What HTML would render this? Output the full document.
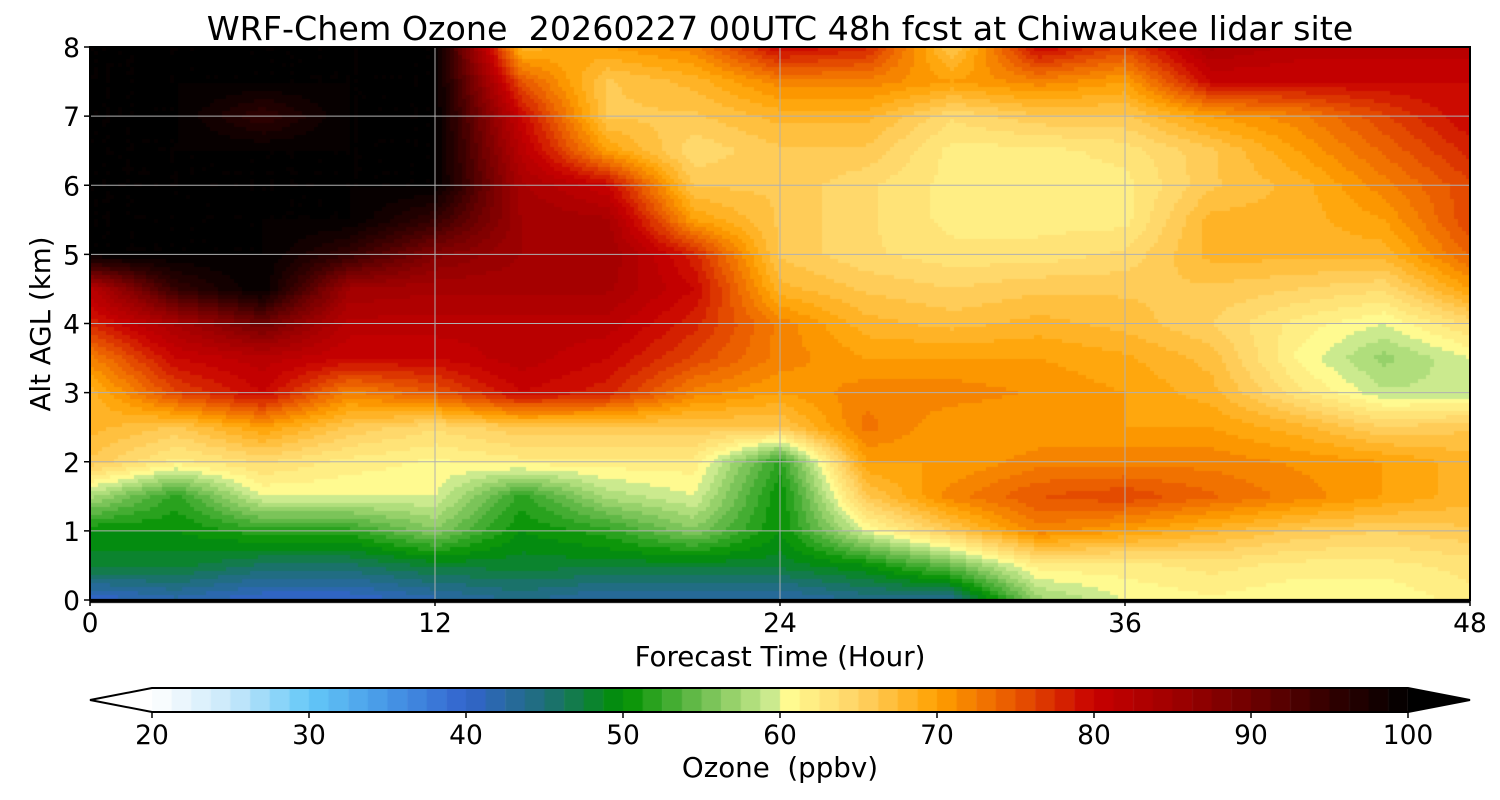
<!DOCTYPE html>
<html><head><meta charset="utf-8"><style>
body{margin:0;background:#fff;width:1500px;height:800px;overflow:hidden;font-family:"DejaVu Sans","Liberation Sans",sans-serif}
#wrap{position:relative;width:1500px;height:800px}
canvas,svg{position:absolute;left:0;top:0}
svg text{font-family:"DejaVu Sans","Liberation Sans",sans-serif}
</style></head><body>
<div id="wrap">
<canvas id="cv" width="1500" height="800"></canvas>
<svg id="sv" width="1500" height="800"></svg>
</div>
<script>
// Data
const hours=[0,3,6,9,12,15,18,21,24,27,30,33,36,39,42,45,48];
const alts=[0,0.5,1,1.5,2,2.5,3,3.5,4,4.5,5,5.5,6,6.5,7,7.5,8];
const ozone=[
[40,48,50,58,66,68,68,72,78,82,100,100,100,100,100,100,100],
[42,48,50,52,62,66,76,80,84,95,100,100,100,100,100,100,100],
[40,46,52,60,64,70,80,82,90,100,100,100,100,100,95,100,100],
[40,46,52,60,62,66,72,80,82,85,95,100,100,100,100,100,100],
[42,48,56,60,61,64,75,80,82,84,88,95,100,100,100,100,100],
[44,48,50,52,62,66,80,82,82,84,85,85,84,82,80,75,68],
[42,48,52,58,62,66,78,80,82,84,85,84,80,70,66,66,70],
[42,48,56,60,62,66,72,76,78,80,78,70,66,64,66,68,72],
[42,48,50,50,52,66,70,72,72,68,66,66,66,66,68,72,80],
[44,50,60,66,70,73,72,70,68,66,64,64,64,66,68,72,78],
[44,55,66,72,70,70,72,70,67,65,63,62,62,62,64,70,66],
[57,62,72,75,72,70,71,70,68,66,63,62,62,62,66,72,80],
[60,62,70,76,72,70,70,69,67,66,64,62,62,63,66,70,76],
[61,63,68,74,72,70,68,67,65,66,68,68,66,66,70,80,84],
[60,62,66,72,71,68,63,61,62,65,68,68,68,70,72,80,82],
[60,62,65,70,70,65,59,57,60,64,68,70,72,74,76,80,82],
[62,63,66,68,68,66,59,60,64,70,74,76,76,78,80,80,82]];
const xTicks=[0,12,24,36,48];
const yTicks=[0,1,2,3,4,5,6,7,8];
const cbTicks=[20,30,40,50,60,70,80,90,100];
const cstops=[[20,[255,255,255]],[25,[200,232,250]],[30,[100,200,248]],[35,[70,150,230]],[40,[50,100,205]],[45,[30,110,120]],[50,[0,145,0]],[55,[110,190,80]],[59.9,[215,240,150]],[60,[255,255,150]],[65,[255,210,100]],[70,[255,160,0]],[75,[232,85,0]],[80,[200,0,0]],[85,[160,0,0]],[90,[110,0,0]],[95,[50,0,0]],[100,[0,0,0]]];
function cmap(v){v=Math.max(20,Math.min(100,v));
 for(let i=0;i<cstops.length-1;i++){const a=cstops[i],b=cstops[i+1];
  if(v<=b[0]){const t=(v-a[0])/(b[0]-a[0]);return a[1].map((c,k)=>Math.round(c+(b[1][k]-c)*t));}}
 return [0,0,0];}
const X0=90,X1=1470,Y0=600,Y1=47;
const xs=h=>X0+(X1-X0)*h/48, ys=a=>Y0-(Y0-Y1)*a/8;
function val(h,a){
 let i=Math.min(hours.length-2,Math.floor(h/3)),j=Math.min(alts.length-2,Math.floor(a/0.5));
 const tx=(h-hours[i])/3,ty=(a-alts[j])/0.5;
 const v00=ozone[i][j],v10=ozone[i+1][j],v01=ozone[i][j+1],v11=ozone[i+1][j+1];
 return v00*(1-tx)*(1-ty)+v10*tx*(1-ty)+v01*(1-tx)*ty+v11*tx*ty;}
const ctx=document.getElementById('cv').getContext('2d');
const step=4;
for(let px=X0;px<X1;px+=step)for(let py=Y1;py<Y0;py+=step){
 const h=(px+step/2-X0)/(X1-X0)*48,a=(Y0-(py+step/2))/(Y0-Y1)*8;
 let v=val(h,a);v=Math.floor(v/1.25)*1.25+0.6;
 const c=cmap(v);ctx.fillStyle=`rgb(${c})`;ctx.fillRect(px,py,step,step);}
const CB0=152,CB1=1408,CT=688,CBB=712;
const cbx=v=>CB0+(CB1-CB0)*(v-20)/80;
for(let v=20;v<100;v+=1.25){const c=cmap(v+0.6);ctx.fillStyle=`rgb(${c})`;ctx.fillRect(cbx(v),CT,cbx(v+1.25)-cbx(v)+0.5,CBB-CT);}
const sv=document.getElementById('sv');const NS='http://www.w3.org/2000/svg';
function mk(t,at,txt){const e=document.createElementNS(NS,t);for(const k in at)e.setAttribute(k,at[k]);if(txt!==undefined)e.textContent=txt;sv.appendChild(e);return e;}
for(const t of xTicks){const l=mk('line',{x1:xs(t),x2:xs(t),y1:Y1,y2:Y0,stroke:'#b0b0b0','stroke-width':1});

mk('line',{x1:xs(t),x2:xs(t),y1:Y0,y2:Y0+6,stroke:'#000','stroke-width':1.5});
const tx=mk('text',{x:xs(t),y:Y0+32,'text-anchor':'middle','font-size':26.5},t);
}
for(const t of yTicks){const l=mk('line',{x1:X0,x2:X1,y1:ys(t),y2:ys(t),stroke:'#b0b0b0','stroke-width':1});

mk('line',{x1:X0-6,x2:X0,y1:ys(t),y2:ys(t),stroke:'#000','stroke-width':1.5});
const tx=mk('text',{x:X0-10,y:ys(t)+10,'text-anchor':'end','font-size':26.5},t);
}
const fr=mk('rect',{x:X0,y:Y1,width:X1-X0,height:Y0-Y1,fill:'none',stroke:'#000','stroke-width':2});

const ti=mk('text',{x:780,y:40,'text-anchor':'middle','font-size':33.3},'WRF-Chem Ozone  20260227 00UTC 48h fcst at Chiwaukee lidar site');
ti.style.whiteSpace='pre';
const xl=mk('text',{x:780,y:666,'text-anchor':'middle','font-size':27.7},'Forecast Time (Hour)');

const yl=mk('text',{x:50,y:324,'text-anchor':'middle','font-size':27.7,transform:'rotate(-90 50 324)'},'Alt AGL (km)');

const lc=cmap(20),rc=cmap(100);
const lt=mk('polygon',{points:`${CB0},${CT} ${X0},${(CT+CBB)/2} ${CB0},${CBB}`,fill:`rgb(${lc})`,stroke:'none'});

const rt=mk('polygon',{points:`${CB1},${CT} ${X1},${(CT+CBB)/2} ${CB1},${CBB}`,fill:`rgb(${rc})`,stroke:'none'});

const ol=mk('polygon',{points:`${CB0},${CT} ${X0},${(CT+CBB)/2} ${CB0},${CBB} ${CB1},${CBB} ${X1},${(CT+CBB)/2} ${CB1},${CT}`,fill:'none',stroke:'#000','stroke-width':2});

for(const t of cbTicks){mk('line',{x1:cbx(t),x2:cbx(t),y1:CBB,y2:CBB+6,stroke:'#000','stroke-width':1.5});
const tx=mk('text',{x:cbx(t),y:744,'text-anchor':'middle','font-size':26.5},t);
}
const cl=mk('text',{x:780,y:777,'text-anchor':'middle','font-size':27.7},'Ozone  (ppbv)');
cl.style.whiteSpace='pre';
</script>
</body></html>
